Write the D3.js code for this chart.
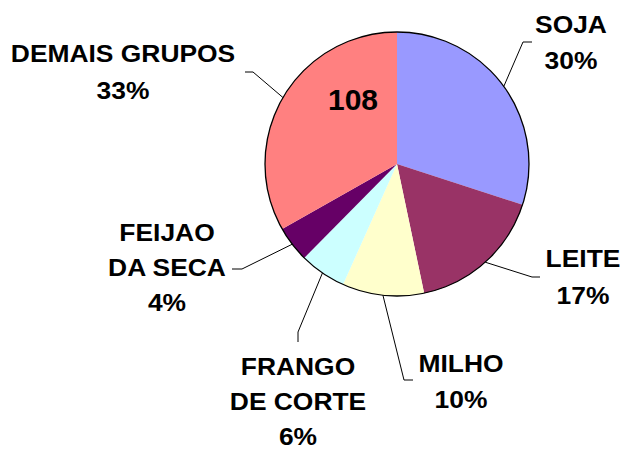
<!DOCTYPE html>
<html>
<head>
<meta charset="utf-8">
<script src="https://cdn.jsdelivr.net/npm/d3@7"></script>
<style>
  html, body { margin: 0; padding: 0; background: #fff; }
  svg { display: block; }
  text { font-family: "Liberation Sans", Arial, sans-serif; font-weight: bold; fill: #000; }
</style>
</head>
<body>
<svg id="chart" width="623" height="450"></svg>
<script>
// ---- data ----
const categories = ["SOJA", "LEITE", "MILHO", "FRANGO DE CORTE", "FEIJAO DA SECA", "DEMAIS GRUPOS"];
const labelLines = [["SOJA"], ["LEITE"], ["MILHO"], ["FRANGO", "DE CORTE"], ["FEIJAO", "DA SECA"], ["DEMAIS GRUPOS"]];
const shares = [30, 16.7, 10, 5.7, 4.4, 33.2];
const totalLabel = "108";
const colors = ["#9999FF", "#993366", "#FFFFCC", "#CCFFFF", "#660066", "#FF8080"];

// ---- layout ----
const cx = 397, cy = 164, R = 132;
// label centre x, first baseline, line height; leader elbow and end
const layout = [
  { x: 571, y: 33,  lh: 36, elbow: [523, 42],  end: [532, 42] },
  { x: 583, y: 267, lh: 37, elbow: [532, 277], end: [540, 277] },
  { x: 461, y: 372, lh: 36, elbow: [404, 380], end: [413, 380] },
  { x: 298, y: 375, lh: 35, elbow: [298, 332], end: [298, 342] },
  { x: 167, y: 241, lh: 35, elbow: [242, 269], end: [232, 269] },
  { x: 123, y: 62,  lh: 37, elbow: [253, 72],  end: [245, 72] }
];

const svg = d3.select("#chart");
const g = svg.append("g").attr("transform", `translate(${cx},${cy})`);

const pie = d3.pie().sort(null).value(d => d)(shares);
const arc = d3.arc().innerRadius(0).outerRadius(R);

g.selectAll("path.slice").data(pie).join("path")
  .attr("class", "slice")
  .attr("d", arc)
  .attr("fill", (d, i) => colors[i]);

g.append("circle").attr("r", R).attr("fill", "none").attr("stroke", "#000").attr("stroke-width", 1.3);

// leader lines and labels
const total = d3.sum(shares);
pie.forEach((d, i) => {
  const a = (d.startAngle + d.endAngle) / 2;
  const sx = cx + R * Math.sin(a), sy = cy - R * Math.cos(a);
  const L = layout[i];
  svg.append("polyline")
    .attr("points", [[sx, sy], L.elbow, L.end].map(p => p.join(",")).join(" "))
    .attr("fill", "none").attr("stroke", "#000").attr("stroke-width", 1);
  const lines = labelLines[i].concat([Math.round(d.value / total * 100) + "%"]);
  lines.forEach((t, k) => {
    svg.append("text")
      .attr("transform", `translate(${L.x},${L.y + k * L.lh}) scale(1.1,1)`)
      .attr("text-anchor", "middle")
      .attr("font-size", 24)
      .text(t);
  });
});

// centre total
svg.append("text")
  .attr("x", 353).attr("y", 110)
  .attr("text-anchor", "middle")
  .attr("font-size", 30)
  .text(totalLabel);
</script>
</body>
</html>
